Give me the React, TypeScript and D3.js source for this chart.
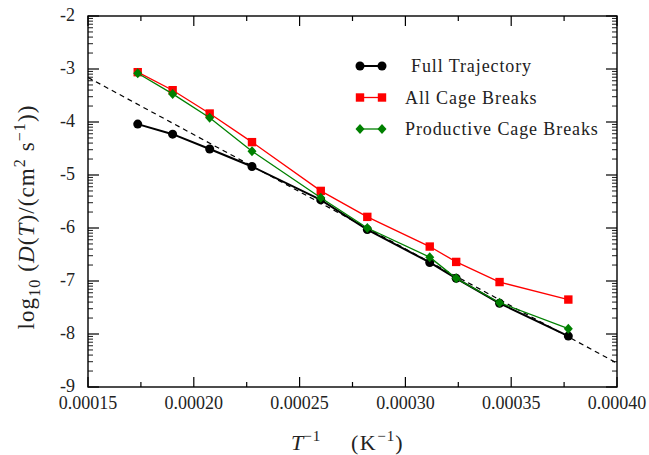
import React from 'react';
import * as d3 from 'd3';

// inverse temperature (1/K)
const invT = [0.0001735, 0.00019, 0.0002075, 0.0002275, 0.00026, 0.000282, 0.0003115, 0.000324, 0.0003445, 0.000377];
// log10 D values
const fullTraj = [-4.04, -4.23, -4.51, -4.84, -5.47, -6.03, -6.65, -6.95, -7.42, -8.04];
const allCage = [-3.06, -3.40, -3.84, -4.38, -5.30, -5.79, -6.35, -6.64, -7.02, -7.35];
const productive = [-3.08, -3.47, -3.92, -4.55, -5.43, -6.00, -6.55, -6.95, -7.41, -7.90];
// Arrhenius fit line end points
const fitX = [0.00015, 0.0004];
const fitY = [-3.16, -8.55];

const xTicks = [0.00015, 0.0002, 0.00025, 0.0003, 0.00035, 0.0004];
const xMinor = [0.000175, 0.000225, 0.000275, 0.000325, 0.000375];
const yTicks = [-9, -8, -7, -6, -5, -4, -3, -2];

const W = 649, H = 455;
const margin = { top: 16, right: 32, bottom: 68, left: 88 };
const FONT = '"Liberation Serif", "DejaVu Serif", serif';

const App = () => {
    const x = d3.scaleLinear().domain([0.00015, 0.0004]).range([margin.left, W - margin.right]);
    const y = d3.scaleLinear().domain([-9, -2]).range([H - margin.bottom, margin.top]);
    const x0 = x.range()[0], x1 = x.range()[1];
    const y0 = y.range()[0], y1 = y.range()[1];

    // log-style minor ticks inside each unit
    const yMinor: number[] = [];
    for (let k = -9; k < -2; k++) {
        for (let m = 2; m <= 9; m++) yMinor.push(k + Math.log10(m));
    }

    const line = d3.line<number>().x((_, i) => x(invT[i])).y(d => y(d));
    const fitLine = d3.line<number>().x((_, i) => x(fitX[i])).y(d => y(d));

    const circle = (cx: number, cy: number, key: any) => <circle key={key} cx={cx} cy={cy} r={4.5} fill="#000" />;
    const square = (cx: number, cy: number, key: any) => <rect key={key} x={cx - 4.2} y={cy - 4.2} width={8.4} height={8.4} fill="#ff0000" />;
    const diamond = (cx: number, cy: number, key: any) => (
        <path key={key} d={`M${cx},${cy - 5}L${cx + 4.5},${cy}L${cx},${cy + 5}L${cx - 4.5},${cy}Z`} fill="#008000" />
    );

    const series = [
        { name: 'Full Trajectory', data: fullTraj, color: '#000', width: 2, marker: circle, tx: 411 },
        { name: 'All Cage Breaks', data: allCage, color: '#ff0000', width: 1.3, marker: square, tx: 405 },
        { name: 'Productive Cage Breaks', data: productive, color: '#008000', width: 1.3, marker: diamond, tx: 405 },
    ];

    return (
        <svg width={W} height={H} style={{ position: 'absolute', left: 0, top: 0, background: '#fff' }} fontFamily={FONT}>
            {/* ticks */}
            {xTicks.map(t => (
                <g key={'xt' + t} stroke="#000" strokeWidth={1.2}>
                    <line x1={x(t)} x2={x(t)} y1={y0} y2={y0 - 10} />
                    <line x1={x(t)} x2={x(t)} y1={y1} y2={y1 + 10} />
                </g>
            ))}
            {xMinor.map(t => (
                <g key={'xm' + t} stroke="#000" strokeWidth={1.2}>
                    <line x1={x(t)} x2={x(t)} y1={y0} y2={y0 - 5} />
                    <line x1={x(t)} x2={x(t)} y1={y1} y2={y1 + 5} />
                </g>
            ))}
            {yTicks.map(t => (
                <g key={'yt' + t} stroke="#000" strokeWidth={1.2}>
                    <line x1={x0} x2={x0 + 11} y1={y(t)} y2={y(t)} />
                    <line x1={x1} x2={x1 - 11} y1={y(t)} y2={y(t)} />
                </g>
            ))}
            {yMinor.map((t, i) => (
                <g key={'ym' + i} stroke="#000" strokeWidth={0.9}>
                    <line x1={x0} x2={x0 + 5} y1={y(t)} y2={y(t)} />
                    <line x1={x1} x2={x1 - 5} y1={y(t)} y2={y(t)} />
                </g>
            ))}
            <rect x={x0} y={y1} width={x1 - x0} height={y0 - y1} fill="none" stroke="#000" strokeWidth={1.4} />

            {/* tick labels */}
            {xTicks.map(t => (
                <text key={'xl' + t} x={x(t)} y={y0 + 22} textAnchor="middle" fontSize={18} fill="#222">
                    {t.toFixed(5)}
                </text>
            ))}
            {yTicks.map(t => (
                <text key={'yl' + t} x={x0 - 13} y={y(t) + 5} textAnchor="end" fontSize={18} fill="#222">
                    {String(t)}
                </text>
            ))}

            {/* fit */}
            <path d={fitLine(fitY) || ''} fill="none" stroke="#000" strokeWidth={1.2} strokeDasharray="5,4" />

            {/* series */}
            {series.map(s => (
                <g key={s.name}>
                    <path d={line(s.data) || ''} fill="none" stroke={s.color} strokeWidth={s.width} />
                    {s.data.map((d, i) => s.marker(x(invT[i]), y(d), i))}
                </g>
            ))}

            {/* legend */}
            {series.map((s, i) => {
                const ly = 66 + i * 31.5;
                return (
                    <g key={'lg' + i}>
                        <line x1={360} x2={382} y1={ly} y2={ly} stroke={s.color} strokeWidth={s.width} />
                        {s.marker(360, ly, 'a')}
                        {s.marker(382, ly, 'b')}
                        <text x={s.tx} y={ly + 6} fontSize={18} letterSpacing={0.9} fill="#222">{s.name}</text>
                    </g>
                );
            })}

            {/* axis titles */}
            <text x={291} y={450} fontSize={22} fill="#222">
                <tspan fontStyle="italic">T</tspan>
                <tspan dy={-9} fontSize={15} letterSpacing={1}>−1</tspan>
                <tspan x={351} dy={9} letterSpacing={1.5}>(K</tspan>
                <tspan dy={-9} fontSize={15} letterSpacing={1}>−1</tspan>
                <tspan dy={9}>)</tspan>
            </text>
            <text transform="translate(34,217) rotate(-90)" textAnchor="middle" fontSize={23} letterSpacing={1.1} fill="#222">
                <tspan>log</tspan>
                <tspan dy={6} fontSize={16}>10</tspan>
                <tspan dy={-6}>{'\u00a0('}</tspan>
                <tspan fontStyle="italic">D</tspan>
                <tspan>(</tspan>
                <tspan fontStyle="italic">T</tspan>
                <tspan>)/(cm</tspan>
                <tspan dy={-9} fontSize={16}>2</tspan>
                <tspan dy={9}>{'\u00a0s'}</tspan>
                <tspan dy={-9} fontSize={16}>−1</tspan>
                <tspan dy={9}>))</tspan>
            </text>
        </svg>
    );
};

export default App;
